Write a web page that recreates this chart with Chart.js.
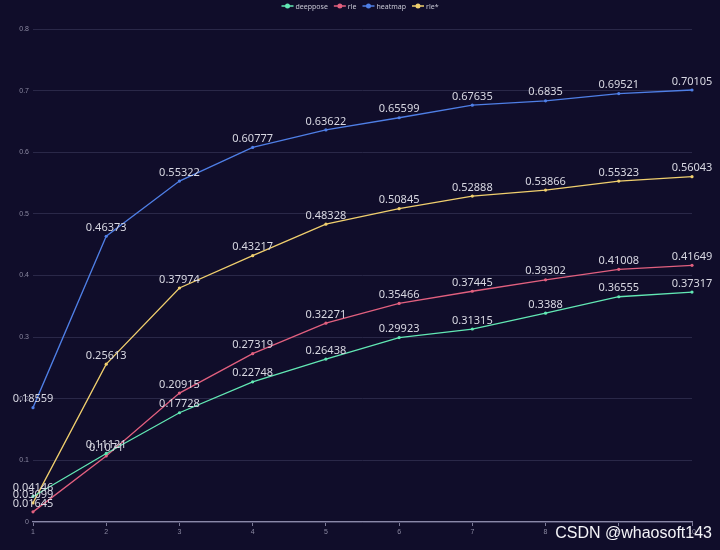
<!DOCTYPE html>
<html>
<head>
<meta charset="utf-8">
<script src="https://cdn.jsdelivr.net/npm/chart.js@4"></script>
<style>
  html, body { margin: 0; padding: 0; background: #100d2a; }
  #wrap { position: relative; width: 720px; height: 550px; }
  #mark { position: absolute; right: 8px; bottom: 8px; color: #f4f4f8; font: 16px "Liberation Sans", Arial, sans-serif; }
</style>
</head>
<body>
<div id="wrap">
  <canvas id="chart" width="720" height="550"></canvas>
  <div id="mark">CSDN @whaosoft143</div>
</div>
<script>
const epochs = ['1','2','3','4','5','6','7','8','9','10'];
const deeppose = [0.04146, 0.11121, 0.17728, 0.22748, 0.26438, 0.29923, 0.31315, 0.3388, 0.36555, 0.37317];
const rle = [0.01645, 0.1071, 0.20915, 0.27319, 0.32271, 0.35466, 0.37445, 0.39302, 0.41008, 0.41649];
const heatmap = [0.18559, 0.46373, 0.55322, 0.60777, 0.63622, 0.65599, 0.67635, 0.6835, 0.69521, 0.70105];
const rleStar = [0.03099, 0.25613, 0.37974, 0.43217, 0.48328, 0.50845, 0.52888, 0.53866, 0.55323, 0.56043];

const names = ['deeppose', 'rle', 'heatmap', 'rle*'];
const colors = ['#62e8b4', '#e2607f', '#4f7fe6', '#f0cf6e'];
const series = [deeppose, rle, heatmap, rleStar];

// value labels above every point
const valueLabels = {
  id: 'valueLabels',
  afterDatasetsDraw(chart) {
    const ctx = chart.ctx;
    ctx.save();
    ctx.font = '11px "Noto Sans", sans-serif';
    ctx.fillStyle = '#d8d8e2';
    ctx.textAlign = 'center';
    ctx.textBaseline = 'bottom';
    chart.data.datasets.forEach((ds, i) => {
      chart.getDatasetMeta(i).data.forEach((pt, j) => {
        ctx.fillText(String(ds.data[j]), pt.x, pt.y - 3);
      });
    });
    ctx.restore();
  }
};

// echarts-like legend at the top
const topLegend = {
  id: 'topLegend',
  afterDraw(chart) {
    const ctx = chart.ctx;
    ctx.save();
    ctx.font = '7px "Noto Sans", sans-serif';
    ctx.textBaseline = 'middle';
    const y = 6;
    const widths = names.map(n => 12 + 2 + ctx.measureText(n).width);
    const gap = 6;
    const total = widths.reduce((a, b) => a + b, 0) + gap * (names.length - 1);
    let x = chart.width / 2 - total / 2;
    names.forEach((n, i) => {
      ctx.strokeStyle = colors[i];
      ctx.lineWidth = 1.5;
      ctx.beginPath();
      ctx.moveTo(x, y);
      ctx.lineTo(x + 12, y);
      ctx.stroke();
      ctx.fillStyle = colors[i];
      ctx.beginPath();
      ctx.arc(x + 6, y, 2.5, 0, Math.PI * 2);
      ctx.fill();
      ctx.fillStyle = '#c8c8d4';
      ctx.fillText(n, x + 14, y + 0.5);
      x += widths[i] + gap;
    });
    ctx.restore();
  }
};

new Chart(document.getElementById('chart'), {
  type: 'line',
  data: {
    labels: epochs,
    datasets: series.map((d, i) => ({
      label: names[i],
      data: d,
      borderColor: colors[i],
      backgroundColor: colors[i],
      borderWidth: 1.3,
      pointRadius: 1.6,
      pointBackgroundColor: colors[i],
      pointBorderWidth: 0,
      tension: 0
    }))
  },
  options: {
    responsive: false,
    animation: false,
    layout: { padding: { top: 29, right: 28, bottom: 0, left: 0 } },
    plugins: {
      legend: { display: false },
      tooltip: { enabled: false }
    },
    scales: {
      x: {
        offset: false,
        grid: { display: true, drawOnChartArea: false, drawTicks: true, tickLength: 4, color: '#7c7a98' },
        border: { display: true, color: '#8a88a8', width: 1.2 },
        ticks: { color: '#8a88a0', font: { size: 7 }, padding: 2 },
        afterFit(s) { s.height = 28; }
      },
      y: {
        min: 0,
        max: 0.8,
        ticks: { stepSize: 0.1, color: '#8a88a0', font: { size: 7 }, padding: 4 },
        grid: { color: '#2a2848', drawTicks: false },
        border: { display: false },
        afterFit(s) { s.width = 33; }
      }
    }
  },
  plugins: [valueLabels, topLegend]
});
</script>
</body>
</html>
